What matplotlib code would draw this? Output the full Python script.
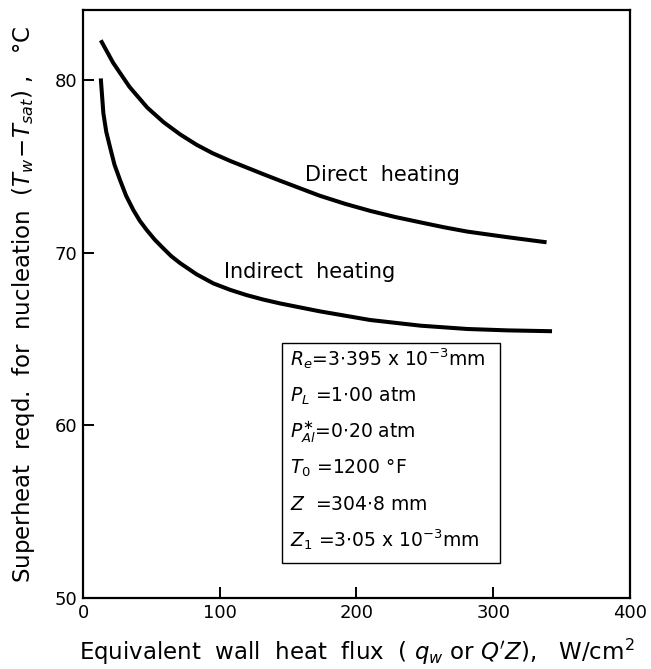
import matplotlib
matplotlib.use("Agg")
import matplotlib.pyplot as plt
from matplotlib.patches import Rectangle

# Data
direct_x = [13, 22, 34, 47, 59, 71, 83, 95, 108, 120, 132, 144, 159, 173, 192, 210, 228, 247, 264, 281, 310, 339]
direct_y = [82.3, 81.0, 79.6, 78.4, 77.55, 76.85, 76.25, 75.75, 75.3, 74.92, 74.54, 74.17, 73.72, 73.3, 72.82, 72.42, 72.07, 71.75, 71.47, 71.22, 70.9, 70.6]

indirect_x = [13, 14.9, 17, 19.7, 23, 27.1, 31.5, 36.8, 41.5, 46.6, 52.5, 58.7, 64.5, 70.9, 83, 95.3, 107.5, 119.7, 132, 144.1, 173.3, 210, 247, 281, 310, 343]
indirect_y = [80.09, 78.07, 77.0, 76.13, 75.1, 74.2, 73.3, 72.47, 71.85, 71.31, 70.75, 70.25, 69.8, 69.4, 68.75, 68.22, 67.85, 67.54, 67.28, 67.06, 66.6, 66.1, 65.77, 65.58, 65.5, 65.45]

x_ticks = [0, 100, 200, 300, 400]
y_ticks = [50, 60, 70, 80]

box_lines = [
    r"$R_e$=3$\cdot$395 x 10$^{-3}$mm",
    r"$P_L$ =1$\cdot$00 atm",
    r"$P_{Al}^{\ast}$=0$\cdot$20 atm",
    r"$T_0$ =1200 °F",
    r"$Z$  =304$\cdot$8 mm",
    r"$Z_1$ =3$\cdot$05 x 10$^{-3}$mm",
]

plt.rcParams['font.family'] = ['DejaVu Sans']
plt.rcParams['mathtext.fontset'] = 'dejavusans'

fig = plt.figure(figsize=(6.51, 6.69), dpi=100)
ax = fig.add_axes([0.1275, 0.1061, 0.8402, 0.8789])

ax.plot(direct_x, direct_y, color='black', lw=2.9, solid_capstyle='butt', solid_joinstyle='round')
ax.plot(indirect_x, indirect_y, color='black', lw=2.9, solid_capstyle='butt', solid_joinstyle='round')

ax.set_xlim(0, 400)
ax.set_ylim(50, 84.05)
ax.set_xticks(x_ticks)
ax.set_yticks(y_ticks)
ax.tick_params(direction='in', length=8, width=1.4, labelsize=13, pad=4)
for s in ax.spines.values():
    s.set_linewidth(1.6)

ax.text(162, 74.5, "Direct  heating", fontsize=15, va='center', ha='left')
ax.text(103, 68.9, "Indirect  heating", fontsize=15, va='center', ha='left')

# parameter box
bx0, bx1 = 0.364, 0.762
by0, by1 = 0.0595, 0.434
ax.add_patch(Rectangle((bx0, by0), bx1 - bx0, by1 - by0, transform=ax.transAxes,
                       fill=False, lw=1.0, edgecolor='black'))
line_px = [359, 396, 432, 468, 504, 540]
for t, py in zip(box_lines, line_px):
    yfrac = (598 - py) / 588
    ax.text(0.378, yfrac, t, transform=ax.transAxes, fontsize=13.5, va='center', ha='left')

ax.set_xlabel(r"Equivalent  wall  heat  flux  ( $q_w$ or $Q^{\prime}Z$),   W/cm$^2$", fontsize=16.5, labelpad=11)
ax.set_ylabel(r"Superheat  reqd.  for  nucleation  ($T_w\!-\!T_{sat}$) ,   °C", fontsize=16.5, labelpad=13)

fig.savefig("out.png", dpi=100)
